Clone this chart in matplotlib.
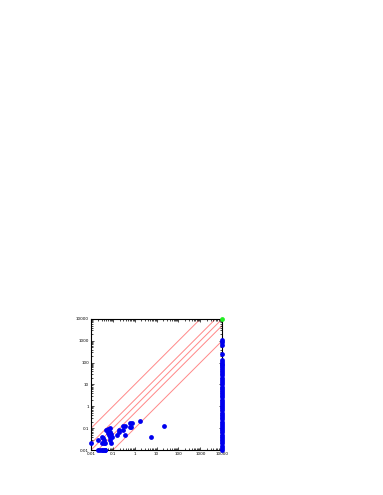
import matplotlib
matplotlib.use('Agg')
import matplotlib.pyplot as plt
import numpy as np

# solved instances: (time A, time B)
solved_x = [0.01, 0.02, 0.02, 0.032, 0.034, 0.038, 0.032, 0.037, 0.043,
            0.025, 0.03, 0.036, 0.042, 0.045, 0.05, 0.053, 0.06, 0.07,
            0.058, 0.066, 0.072, 0.075, 0.08, 0.075, 0.085, 0.09,
            0.18, 0.19, 0.15, 0.3, 0.34, 0.3, 0.37, 0.6, 0.78, 0.62,
            0.7, 1.8, 5.6, 21]
solved_y = [0.02, 0.03, 0.01, 0.04, 0.035, 0.028, 0.02, 0.02, 0.02,
            0.01, 0.01, 0.01, 0.01, 0.01, 0.08, 0.085, 0.09, 0.1,
            0.06, 0.05, 0.04, 0.03, 0.02, 0.065, 0.055, 0.04,
            0.07, 0.085, 0.05, 0.12, 0.12, 0.08, 0.05, 0.18, 0.18, 0.11,
            0.11, 0.22, 0.04, 0.13]

# instances where A timed out (x = 10000)
timeout_y = [1100, 900, 620, 250, 130, 110, 90, 75, 60, 50, 40, 32, 26, 20,
             16, 13, 10, 8, 6.5, 5, 4, 3.2, 2.6, 2, 1.6, 1.3, 1.0, 0.8,
             0.65, 0.5, 0.4, 0.32, 0.26, 0.2, 0.16, 0.13, 0.1, 0.08, 0.065,
             0.05, 0.04, 0.032, 0.026, 0.02, 0.016, 0.013, 0.01]
timeout_x = [10000] * len(timeout_y)

both_timeout = [10000, 10000]

ratios = [10, 2, 1, 0.5, 0.1]
ticks = [0.01, 0.1, 1, 10, 100, 1000, 10000]
tick_labels = ['0.01', '0.1', '1', '10', '100', '1000', '10000']

fig = plt.figure(figsize=(3.83, 4.95), dpi=100)
ax = fig.add_axes([0.238, 0.0909, 0.342, 0.2647])

lo, hi = 0.01, 10000
xs = np.array([lo, hi])
for r in ratios:
    ax.plot(xs, xs * r, color='#ff8888', lw=0.7, zorder=1)

ax.scatter(solved_x, solved_y, s=12, color='#0000ee', zorder=3,
           linewidths=0, clip_on=False)
ax.scatter(timeout_x, timeout_y, s=12, color='#0000ee', zorder=3,
           linewidths=0, clip_on=False)
ax.scatter([both_timeout[0]], [both_timeout[1]], s=12, color='#22ee22',
           zorder=4, linewidths=0, clip_on=False)

ax.set_xscale('log')
ax.set_yscale('log')
ax.set_xlim(lo, hi)
ax.set_ylim(lo, hi)
ax.set_xticks(ticks)
ax.set_xticklabels(tick_labels)
ax.set_yticks(ticks)
ax.set_yticklabels(tick_labels)
ax.tick_params(which='both', direction='in', top=True, right=True,
               labelsize=3, pad=1.5, width=0.5)
ax.tick_params(which='major', length=2.5)
ax.tick_params(which='minor', length=1.2)
for sp in ax.spines.values():
    sp.set_linewidth(0.8)

fig.savefig('out.png', dpi=100)
